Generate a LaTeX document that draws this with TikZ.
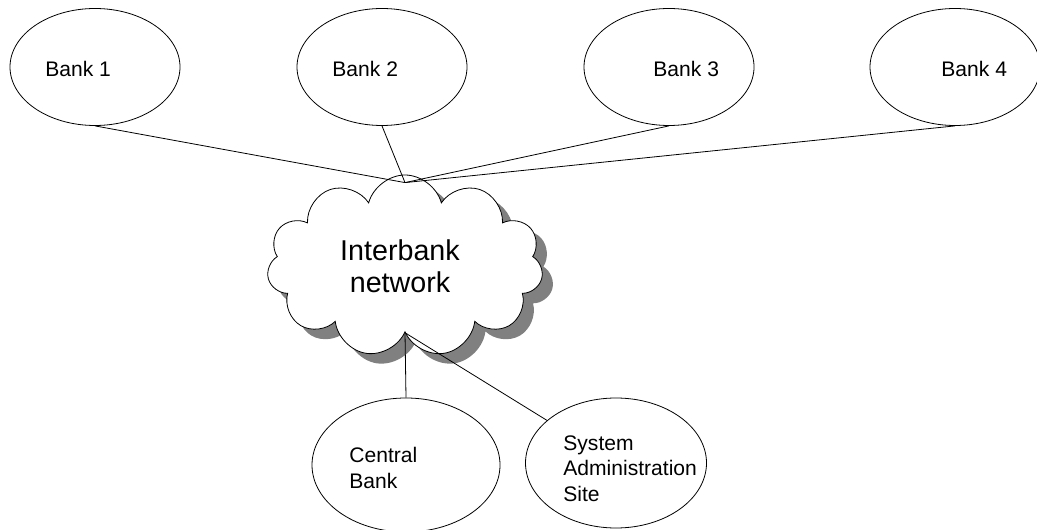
\documentclass[tikz,border=0pt]{standalone}
\usepackage{fontspec}
\setsansfont{Liberation Sans}
\usetikzlibrary{
	positioning,
	shapes,
	shapes.symbols,
	shapes.geometric,
	shadows,
}
\definecolor{ShadowGray}{HTML}{808080}
\tikzset{every picture/.style={/utils/exec={\sffamily}}}

\begin{document}
\begin{tikzpicture} [
            x=0.75pt, y=-0.75pt,
            line width=0.6pt,
            every node/.style={align=left,inner sep=0pt},
            bank/.style={draw,ellipse,minimum width=127.5pt,minimum height=87.75pt},
            site/.style={draw,ellipse,minimum width=141pt,minimum height=100.5pt},
            lbl/.style={font=\fontsize{15.8}{19}\selectfont},
            net/.style={draw,cloud,cloud puffs=11,cloud ignores aspect,fill=white,minimum width=207pt,minimum height=136.5pt,
                drop shadow={fill=ShadowGray,opacity=1,shadow xshift=8pt,shadow yshift=-7.5pt}},
            nettext/.style={font=\fontsize{21.5}{24}\selectfont,align=center}
        ]
        \useasboundingbox (0,0) rectangle (1037,530);

        \node at (95,67) [bank] (bank1) {};
        \node at (45,77) [lbl,anchor=base west] (bank1txt) {Bank 1};

        \node at (382,67) [bank] (bank2) {};
        \node at (332,77) [lbl,anchor=base west] (bank2txt) {Bank 2};

        \node at (669,67) [bank] (bank3) {};
        \node at (653,77) [lbl,anchor=base west] (bank3txt) {Bank 3};

        \node at (955,67) [bank] (bank4) {};
        \node at (941,77) [lbl,anchor=base west] (bank4txt) {Bank 4};

        \node at (405,266) [net] (network) {};
        \node at (400,266) [nettext] (networktxt) {Interbank\\network};
        \coordinate (nettop) at ([yshift=-6pt]network.north);

        \node at (406,465) [site] (central) {};
        \node at (349,488) [lbl,anchor=base west] (centraltxt) {Central\\Bank};

        \node at (616,463) [site,minimum width=135.75pt,minimum height=97.5pt] (sysadmin) {};
        \node at (563,501) [lbl,anchor=base west] (sysadmintxt) {System\\Administration\\Site};

        \path[draw] (bank1.south) -- (nettop);
        \path[draw] (bank2.south) -- (nettop);
        \path[draw] (bank3.south) -- (nettop);
        \path[draw] (bank4.south) -- (nettop);

        \path[draw] (network.south) -- (central.north);
        \path[draw] (network.south) -- (sysadmin);
    \end{tikzpicture}
\end{document}
